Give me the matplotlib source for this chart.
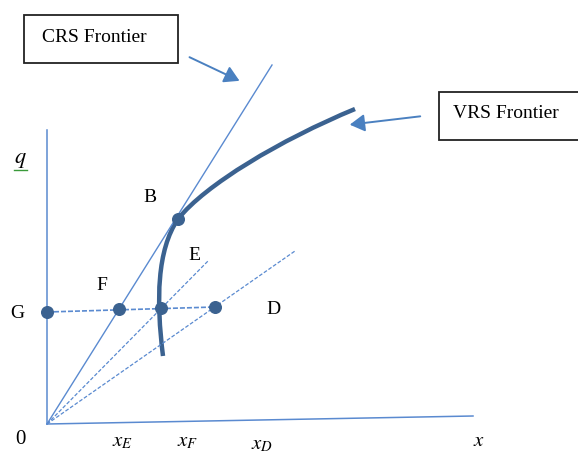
import matplotlib
matplotlib.use("Agg")
import matplotlib.pyplot as plt
from matplotlib.patches import Rectangle, FancyArrowPatch, PathPatch
from matplotlib.path import Path

plt.rcParams['font.family'] = ['Liberation Serif', 'DejaVu Serif']
plt.rcParams['mathtext.fontset'] = 'stix'

# Diagram coordinates (canvas units, y grows downward)
origin = (47, 424)
y_axis_top = (47, 130)
x_axis_end = (473, 416)
crs_end = (272, 65)
ray_e_end = (209, 260)
ray_d_end = (295, 251)

# VRS frontier as two cubic Bezier segments (start, ctrl, ctrl, B, ctrl, ctrl, end)
vrs_x = [163, 156, 157, 178, 205, 280, 355]
vrs_y = [356, 300, 250, 219, 185, 140, 109]

dot_labels = ['G', 'F', 'mid', 'D', 'B']
dot_x = [47, 119, 161, 215, 178]
dot_y = [312, 309, 308, 307, 219]

point_names = ['B', 'E', 'F', 'D', 'G']
point_x = [150, 194, 102, 273, 17]
point_y = [198, 256, 286, 310, 313]

tick_labels = ['0', r'$x_E$', r'$x_F$', r'$x_D$', r'$x$']
tick_x = [20, 123, 188, 262, 479]
tick_y = [440, 442, 442, 445, 441]

thin = '#5a8ad0'
dark = '#3b6290'

fig = plt.figure(figsize=(5.78, 4.55), dpi=100)
ax = fig.add_axes([0, 0, 1, 1])
ax.set_xlim(0, 578)
ax.set_ylim(455, 0)
ax.axis('off')

# axes
ax.plot([origin[0], y_axis_top[0]], [origin[1], y_axis_top[1]], color=thin, lw=1.1)
ax.plot([origin[0], x_axis_end[0]], [origin[1], x_axis_end[1]], color=thin, lw=1.1)

# CRS frontier
ax.plot([origin[0], crs_end[0]], [origin[1], crs_end[1]], color=thin, lw=1.0)

# dashed rays
ax.plot([origin[0], ray_e_end[0]], [origin[1], ray_e_end[1]], color=thin, lw=0.9, ls=(0, (3, 1.5)))
ax.plot([origin[0], ray_d_end[0]], [origin[1], ray_d_end[1]], color=thin, lw=0.9, ls=(0, (3, 1.5)))

# horizontal dashed line G -> D
ax.plot([dot_x[0], dot_x[3]], [dot_y[0], dot_y[3]], color=thin, lw=1.2, ls=(0, (3, 1.2)))

# VRS frontier
codes = [Path.MOVETO, Path.CURVE4, Path.CURVE4, Path.CURVE4, Path.CURVE4, Path.CURVE4, Path.CURVE4]
vrs_path = Path(list(zip(vrs_x, vrs_y)), codes)
ax.add_patch(PathPatch(vrs_path, fill=False, ec=dark, lw=3.2, capstyle='butt', joinstyle='round'))

# dots
ax.scatter(dot_x, dot_y, s=70, color=dark, zorder=5)

# point labels
for n, x, y in zip(point_names, point_x, point_y):
    ax.text(x, y, n, fontsize=14, ha='center', va='center', color='black')

for t, x, y in zip(tick_labels, tick_x, tick_y):
    ax.text(x, y, t, fontsize=15, ha='center', va='center', color='black')

ax.text(20, 160, r'$q$', fontsize=16, ha='center', va='center', color='black')
ax.plot([14, 27], [170, 170], color='#3a9a3a', lw=1.0)

# boxes
ax.add_patch(Rectangle((24, 15), 154, 48, fill=False, ec='#222222', lw=1.3))
ax.text(94, 38, 'CRS Frontier', fontsize=14, ha='center', va='center')
ax.add_patch(Rectangle((439, 92), 140, 48, fill=False, ec='#222222', lw=1.3, clip_on=False))
ax.text(506, 113, 'VRS Frontier', fontsize=14, ha='center', va='center')

# arrows
ax.add_patch(FancyArrowPatch((187, 56), (242, 82), arrowstyle='-|>,head_length=6,head_width=3.5',
                             color='#4a80c0', lw=1.4, mutation_scale=1.5))
ax.add_patch(FancyArrowPatch((423, 116), (347, 125), arrowstyle='-|>,head_length=6,head_width=3.5',
                             color='#4a80c0', lw=1.4, mutation_scale=1.5))

fig.savefig('out.png', dpi=100)
